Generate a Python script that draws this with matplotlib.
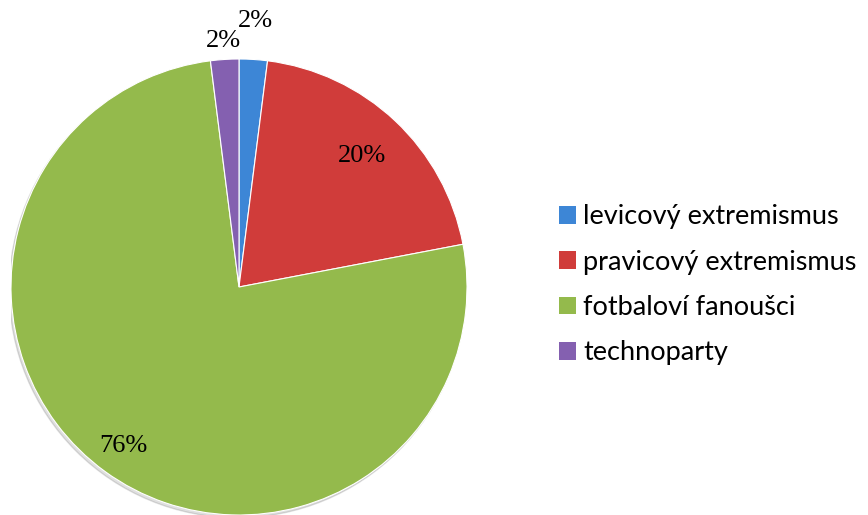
import numpy as np
import matplotlib
matplotlib.use("Agg")
from matplotlib import pyplot as plt

# data
categories = ['levicový extremismus', 'pravicový extremismus', 'fotbaloví fanoušci', 'technoparty']
shares = [2, 20, 76, 2]
colors = ['#3D86D6', '#D03C3A', '#94BA4C', '#8460B0']
label_dist = [1.17, 0.79, 0.86, 1.08]

fig = plt.figure(figsize=(8.68, 5.15), dpi=100)
ax = fig.add_axes([11 / 868, 0 / 515, 456 / 868, 456 / 515])

# soft shadow under the pie
shadow = plt.Circle((-0.008, -0.012), 1.0, color='#000000', alpha=0.12, zorder=0)
ax.add_patch(shadow)

wedges, texts, autotexts = ax.pie(
    shares, colors=colors, startangle=90, counterclock=False,
    autopct='%1.0f%%', radius=1.0,
    wedgeprops=dict(edgecolor='white', linewidth=0.8),
    textprops=dict(family='Liberation Serif', fontsize=19, color='black'))

# move percent labels
for w, t, d in zip(wedges, autotexts, label_dist):
    ang = np.deg2rad((w.theta1 + w.theta2) / 2)
    t.set_position((d * np.cos(ang), d * np.sin(ang)))
    t.set_clip_on(False)

ax.set_xlim(-1, 1)
ax.set_ylim(-1, 1)
ax.set_aspect('equal')
ax.axis('off')

leg = fig.legend(wedges, categories, loc='center left',
                 bbox_to_anchor=(535 / 868, 0.447), frameon=False,
                 prop=dict(family='Lato', size=19.5),
                 handlelength=0.62, handleheight=0.62, handletextpad=0.25,
                 labelspacing=0.75)
for h in leg.legend_handles:
    h.set_edgecolor('none')

fig.savefig('out.png', dpi=100)
